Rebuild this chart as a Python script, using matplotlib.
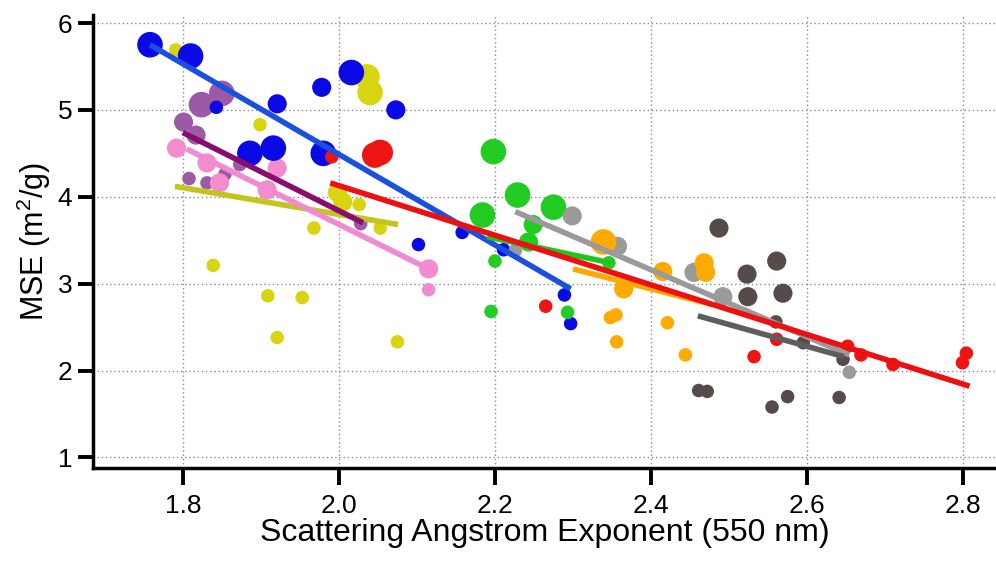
import matplotlib
matplotlib.use("Agg")
import matplotlib.pyplot as plt
import numpy as np

plt.rcParams['font.family'] = ['Liberation Sans', 'DejaVu Sans']
plt.rcParams['mathtext.default'] = 'regular'

# point data per group: x = scattering Angstrom exponent, y = MSE, w = size class (1 small .. 3 large)
blue_x = [1.758, 1.810, 1.921, 1.978, 2.016, 2.073, 1.886, 1.916, 1.980, 1.843, 2.102, 2.158, 2.211, 2.289, 2.297]
blue_y = [5.75, 5.62, 5.07, 5.26, 5.43, 5.00, 4.50, 4.56, 4.50, 5.03, 3.45, 3.59, 3.39, 2.87, 2.54]
blue_w = [3, 3, 2, 2, 3, 2, 3, 3, 3, 1, 1, 1, 1, 1, 1]

yellow_x = [1.791, 2.036, 2.040, 1.899, 1.998, 2.005, 2.026, 1.968, 2.053, 1.839, 1.909, 1.953, 1.921, 2.075]
yellow_y = [5.69, 5.38, 5.20, 4.83, 4.05, 3.94, 3.91, 3.64, 3.64, 3.21, 2.86, 2.84, 2.38, 2.33]
yellow_w = [1, 3, 3, 1, 2, 2, 1, 1, 1, 1, 1, 1, 1, 1]

purple_x = [1.824, 1.850, 1.801, 1.817, 1.808, 1.831, 1.854, 1.873, 2.028]
purple_y = [5.06, 5.19, 4.86, 4.71, 4.21, 4.16, 4.26, 4.37, 3.69]
purple_w = [3, 3, 2, 2, 1, 1, 1, 1, 1]

pink_x = [1.792, 1.831, 1.847, 1.921, 1.908, 2.115, 2.115]
pink_y = [4.56, 4.39, 4.16, 4.33, 4.08, 3.17, 2.93]
pink_w = [2, 2, 2, 2, 2, 2, 1]

red_x = [1.991, 2.046, 2.053, 2.265, 2.532, 2.561, 2.652, 2.669, 2.710, 2.804, 2.799]
red_y = [4.46, 4.48, 4.51, 2.74, 2.16, 2.36, 2.28, 2.18, 2.07, 2.20, 2.09]
red_w = [1, 3, 3, 1, 1, 1, 1, 1, 1, 1, 1]

green_x = [2.198, 2.229, 2.184, 2.275, 2.249, 2.243, 2.200, 2.195, 2.293, 2.346]
green_y = [4.52, 4.02, 3.79, 3.88, 3.68, 3.48, 3.26, 2.68, 2.67, 3.24]
green_w = [3, 3, 3, 3, 2, 2, 1, 1, 1, 1]

gray_x = [2.299, 2.357, 2.226, 2.455, 2.492, 2.654]
gray_y = [3.78, 3.43, 3.38, 3.13, 2.85, 1.98]
gray_w = [2, 2, 1, 2, 2, 1]

orange_x = [2.339, 2.365, 2.355, 2.348, 2.356, 2.421, 2.444, 2.415, 2.468, 2.470]
orange_y = [3.48, 2.94, 2.64, 2.61, 2.33, 2.55, 2.18, 3.14, 3.24, 3.13]
orange_w = [3, 2, 1, 1, 1, 1, 1, 2, 2, 2]

brown_x = [2.487, 2.523, 2.561, 2.524, 2.569, 2.560, 2.595, 2.461, 2.472, 2.555, 2.575, 2.641, 2.646]
brown_y = [3.64, 3.11, 3.26, 2.85, 2.89, 2.56, 2.32, 1.77, 1.76, 1.58, 1.70, 1.69, 2.13]
brown_w = [2, 2, 2, 2, 2, 1, 1, 1, 1, 1, 1, 1, 1]

# fitted line end points per group (x0, x1), (y0, y1)
blue_fit = ([1.758, 2.297], [5.75, 2.94])
red_fit = ([1.989, 2.808], [4.16, 1.82])
purple_fit = ([1.800, 2.031], [4.74, 3.70])
yellow_fit = ([1.790, 2.076], [4.12, 3.68])
pink_fit = ([1.805, 2.115], [4.55, 3.17])
green_fit = ([2.190, 2.348], [3.54, 3.24])
gray_fit = ([2.226, 2.654], [3.83, 2.18])
orange_fit = ([2.300, 2.478], [3.17, 2.76])
brown_fit = ([2.460, 2.647], [2.63, 2.16])

size_map = {1: 95, 2: 190, 3: 340}

groups = [
    (yellow_x, yellow_y, yellow_w, '#d8d410', yellow_fit, '#c4c41c'),
    (purple_x, purple_y, purple_w, '#9c5aa6', purple_fit, '#8a0c70'),
    (pink_x, pink_y, pink_w, '#f28ccc', pink_fit, '#f08ad2'),
    (blue_x, blue_y, blue_w, '#0a0ae6', blue_fit, '#1a50e0'),
    (green_x, green_y, green_w, '#22cc22', green_fit, '#20c420'),
    (gray_x, gray_y, gray_w, '#9a9a9a', gray_fit, '#9a9a9a'),
    (orange_x, orange_y, orange_w, '#ffaa00', orange_fit, '#ffa800'),
    (brown_x, brown_y, brown_w, '#574a4a', brown_fit, '#5e5e5e'),
    (red_x, red_y, red_w, '#ee1414', red_fit, '#ee1010'),
]

fig = plt.figure(figsize=(9.96, 5.63), dpi=100)
ax = fig.add_axes([0.0934, 0.169, 0.9066, 0.804])

for gx, gy, gw, col, fit, lcol in groups:
    ax.scatter(gx, gy, s=[size_map[w] for w in gw], color=col, edgecolors='none', zorder=3)
for gx, gy, gw, col, fit, lcol in groups:
    ax.plot(fit[0], fit[1], color=lcol, lw=4, solid_capstyle='butt', zorder=4)

ax.set_xlim(1.685, 2.842)
ax.set_ylim(0.88, 6.09)
ax.set_xticks([1.8, 2.0, 2.2, 2.4, 2.6, 2.8])
ax.set_xticklabels(['1.8', '2.0', '2.2', '2.4', '2.6', '2.8'])
ax.set_yticks([1, 2, 3, 4, 5, 6])

ax.grid(True, color='#8a8a9a', linestyle=(0, (1, 2)), linewidth=1.0, zorder=0)
ax.set_axisbelow(True)

for side in ['top', 'right']:
    ax.spines[side].set_visible(False)
for side in ['left', 'bottom']:
    ax.spines[side].set_linewidth(2.5)

ax.tick_params(axis='x', direction='out', length=12, width=2.8, labelsize=19, pad=7)
ax.tick_params(axis='y', direction='out', length=11, width=2.8, labelsize=19, pad=4)

ax.set_xlabel('Scattering Angstrom Exponent (550 nm)', fontsize=23, labelpad=0)
ax.set_ylabel(r'MSE (m$^2$/g)', fontsize=22, labelpad=3)

fig.savefig('out.png', dpi=100)
